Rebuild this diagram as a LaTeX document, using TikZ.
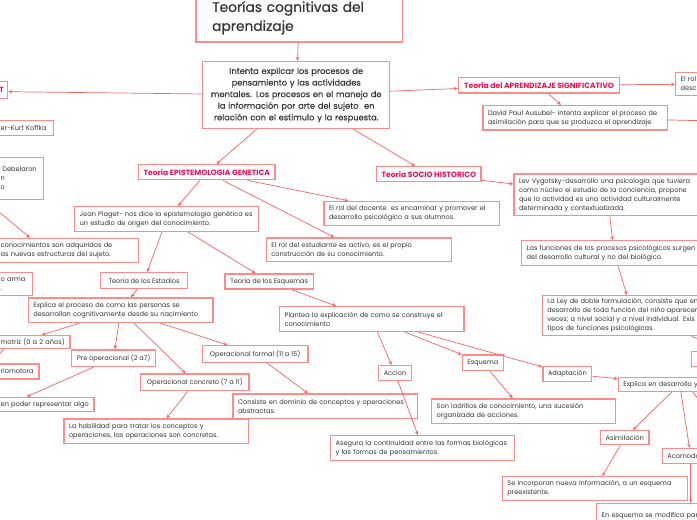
\documentclass[tikz,border=0pt]{standalone}
\usepackage{fontspec}
\setmainfont{Poppins}
\newfontfamily\titlefont{Poppins}[FakeBold=0.7]
\newfontfamily\rootfont{Poppins}[FakeBold=0.35]
\usetikzlibrary{arrows.meta}
\definecolor{boxline}{RGB}{250,140,140}
\definecolor{linkline}{RGB}{244,100,100}
\definecolor{headred}{RGB}{228,18,88}
\definecolor{inkgray}{RGB}{55,55,55}

\begin{document}
\begin{tikzpicture}
[x=1pt, y=-1pt,
box/.style={rectangle, draw=boxline, line width=1.4pt, fill=white, anchor=north west, inner xsep=5pt, inner ysep=0pt, align=left, text=inkgray, font=\fontsize{6.6}{9}\selectfont},
sz/.style 2 args={box, minimum width=#1pt, minimum height=#2pt, /utils/exec={\pgfmathsetmacro\boxtw{#1-10}}, text width=\boxtw pt},
tag/.style 2 args={box, minimum width=#1pt, minimum height=#2pt, align=center},
head/.style 2 args={tag={#1}{#2}, text=headred, font=\fontsize{7.6}{9}\selectfont\bfseries},
link/.style={draw=linkline, line width=0.7pt, -{Stealth[length=4pt,width=3.5pt]}},
]
\fill[white] (0,0) rectangle (697,520);
\useasboundingbox (0,0) rectangle (697,520);

% title and root
\node[box, minimum width=206.7pt, minimum height=48pt, text width=174pt, inner xsep=16pt, line width=1.6pt, font=\titlefont\fontsize{13.8}{19}\selectfont] (title) at (195,-7) {Teorías cognitivas del\\aprendizaje};
\node[sz={187}{66.7}, align=center, font=\rootfont\fontsize{8.3}{11.6}\selectfont] (main) at (202,61) {Intenta explicar los procesos de\\pensamiento y las actividades\\mentales. Los procesos en el manejo de\\la información por arte del sujeto~ en\\relación con el estimulo y la respuesta.};

% left edge
\node[head={11.7}{17}, inner xsep=2pt] (gestalt) at (-5,81) {T};
\node[sz={58}{15}] (koffka) at (-5,120) {er-Kurt Koffka};
\node[sz={47.7}{42.3}] (debel) at (-5,156.7) {\hspace*{1.7pt}Debelaron\\n\\o};
\node[sz={143}{24}] (conoc) at (-5,237.7) {conocimientos son adquiridos de\\as nuevas estructuras del sujeto.};
\node[sz={36.7}{23.3}] (arma) at (-5,271.7) {o arma\\.};

% theories
\node[head={135}{15}] (epis) at (138,164) {Teoria EPISTEMOLOGIA GENETICA};
\node[head={103}{15}] (socio) at (376,166) {Teoria SOCIO HISTORICO};
\node[head={161.3}{15.6}] (aprend) at (457.7,76.7) {Teoria del APRENDIZAJE SIGNIFICATIVO};

% significativo
\node[sz={100}{23.3}] (elrol) at (675,71.7) {El rol\\descr};
\node[sz={184.4}{24.3}] (david) at (482.3,105) {David Paul Ausubel- intenta explicar el proceso de\\asimilación para que se produzca el aprendizaje};

% socio historico
\node[sz={186.4}{41.7}] (lev) at (513.3,173.3) {Lev Vygotsky-desarrollo una psicologia que tuviera\\como núcleo el estudio de la conciencia, propone\\que la actividad es una actividad culturalmente\\determinada y contextualizada.};
\node[sz={185}{25}] (funciones) at (521,240) {Las funciones de los procesos psicológicos surgen\\del desarrollo cultural y no del biológico.};
\node[sz={181.3}{40}] (ley) at (541.7,295) {La Ley de doble formulación, consiste que en\\desarrollo de toda función del niño aparecer\\veces; a nivel social y a nivel individual. Exis\\tipos de funciones psicológicas.};
\node[sz={128}{15.3}] (nivel) at (691,350.7) {l};

% epistemologia genetica
\node[sz={184}{24.7}] (jean) at (74,206) {Jean Piaget- nos dice la epistemologia genética es\\un estudio de origen del conocimiento.};
\node[sz={175.7}{24.3}] (docente) at (323.3,200.7) {El rol del docente~ es encaminar y promover el\\desarrollo psicológico a sus alumnos.};
\node[sz={185}{23.7}] (estudiante) at (265.7,237.3) {El rol del estudiante es activo, es el propio\\construcción de su conocimiento.};
\node[tag={86.7}{15.7}] (estadios) at (100,272) {Teoria de los Estadios};
\node[tag={88.4}{15}] (esquemas) at (224.3,273.3) {Teoria de los Esquemas};

% estadios
\node[sz={184.6}{24.4}] (procesos) at (27.7,297.3) {Explica el proceso de como las personas se\\desarrollan cognitivamente desde su nacimiento};
\node[sz={74.3}{12.7}] (sensorio) at (-5,335) {motriz (0 a 2 años)};
\node[tag={84}{16.4}] (preop) at (71,349.3) {Pre operacional (2 a7)};
\node[tag={108.3}{16.7}] (concreto) at (140,373.3) {Operacional concreto (7 a 11)};
\node[tag={105.6}{16.7}] (formal) at (201.7,345) {Operacional formal (11 a 15)};
\node[sz={43.3}{15}] (riomotora) at (-5,363.3) {riomotora};
\node[sz={98.3}{14.3}] (represent) at (-5,396.7) {en poder representar algo};
\node[sz={184.7}{24.4}] (habilidad) at (63.3,418.3) {La habilidad para tratar los conceptos y\\operaciones, las operaciones son concretas.};
\node[sz={184.4}{24.4}] (dominio) at (232.3,393.3) {Consiste en dominio de conceptos y operaciones\\abstractas.};

% esquemas
\node[sz={184.3}{24.7}] (plantea) at (279,306) {Plantea la explicación de como se construye el\\conocimiento};
\node[tag={33.3}{15}] (accion) at (377.7,365) {Accion};
\node[tag={40.6}{15.7}] (esquema) at (461.7,354.3) {Esquema};
\node[tag={48.7}{15}] (adapt) at (542.3,365.7) {Adaptación};
\node[sz={184}{24.4}] (ladrillos) at (431,398.3) {Son ladrillos de conocimiento, una sucesión\\organizada de acciones.};
\node[sz={184}{25}] (asegura) at (330,435) {Asegura la continuidad entre las formas biológicas\\y las formas de pensamientos.};
\node[sz={122.6}{14}] (desarrollo) at (617.7,376.7) {Explica en desarrollo y};
\node[tag={47.7}{14}] (asimil) at (600,430) {Asimilación};
\node[sz={56.6}{15}] (acomod) at (661.7,447.7) {Acomoda};
\node[sz={185}{24}] (incorporan) at (501.7,476) {Se incorporan nueva información, a un esquema\\preexistente.};
\node[sz={188}{25}] (modifica) at (596,503) {En esquema se modifica par};

\coordinate (offdavid) at (760,122);
\coordinate (offdesarrollo) at (720,425);

% connectors
\draw[link] (title) -- (main);
\draw[link] (main) -- ([yshift=-1.5pt]gestalt.east);
\draw[link] (main) -- (aprend);
\draw[link] (main) -- (epis);
\draw[link] (main) -- (socio);
\draw[link] (aprend) -- (elrol);
\draw[link] (aprend) -- (david);
\draw[link] (david) -- (offdavid);
\draw[link] (socio) -- (lev);
\draw[link] (lev) -- (funciones);
\draw[link] (funciones) -- (ley);
\draw[link] (ley) -- (nivel);
\draw[link] ([xshift=-10pt]debel.south west) -- ([xshift=35pt]conoc.north west);
\draw[link] (epis) -- (jean);
\draw[link] (epis) -- (docente);
\draw[link] (epis) -- (estudiante);
\draw[link] (jean) -- (estadios);
\draw[link] (jean) -- (esquemas);
\draw[link] (estadios) -- (procesos);
\draw[link] (procesos) -- ([xshift=46.7pt]sensorio.north west);
\draw[link] (procesos) -- (preop);
\draw[link] (procesos) -- (concreto);
\draw[link] (procesos) -- (formal);
\draw[link] ([xshift=8.5pt]sensorio.south west) -- ([xshift=-2pt]riomotora.north west);
\draw[link] (preop) -- ([xshift=31.7pt]represent.north west);
\draw[link] (concreto) -- (habilidad);
\draw[link] (formal) -- (dominio);
\draw[link] (esquemas) -- (plantea);
\draw[link] (plantea) -- (accion);
\draw[link] (plantea) -- (esquema);
\draw[link] (plantea) -- (adapt);
\draw[link] (accion) -- (asegura);
\draw[link] (esquema) -- (ladrillos);
\draw[link] (adapt) -- (desarrollo);
\draw[link] (desarrollo) -- (asimil);
\draw[link] (desarrollo) -- (acomod);
\draw[link] ([xshift=13pt]desarrollo.south) -- (offdesarrollo);
\draw[link] (asimil) -- (incorporan);
\draw[link] (acomod) -- (modifica);
\end{tikzpicture}
\end{document}
